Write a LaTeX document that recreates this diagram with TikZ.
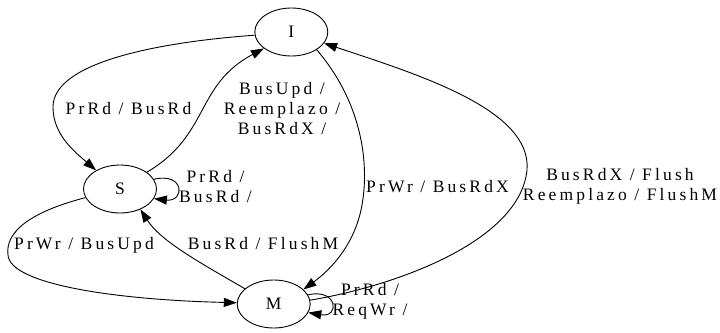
\documentclass[tikz,border=0pt]{standalone}
\usepackage{fontspec}
\setmainfont{Liberation Serif}[LetterSpace=18]
\usetikzlibrary{arrows.meta,shapes.geometric}
\begin{document}
\begin{tikzpicture}[x=1pt,y=-1pt,
  state/.style={draw,ellipse,line width=0.9pt,minimum width=73pt,minimum height=48pt,inner sep=0pt,font=\fontsize{17.5}{20}\selectfont},
  lbl/.style={align=center,inner sep=0pt,font=\fontsize{17.5}{20}\selectfont},
  edge/.style={draw,line width=0.9pt,-{Triangle[length=13pt,width=9pt]}}]
\useasboundingbox (0,0) rectangle (720,332);
\node[state] (I) at (291.3,32) {I};
\node[state] (S) at (120,189) {S};
\node[state] (M) at (273.7,304) {M};
% labels
\node[lbl] (l1) at (128.5,109) {PrRd / BusRd};
\node[lbl] (l2) at (282,109) {BusUpd /\\Reemplazo /\\BusRdX /};
\node[lbl] (l3) at (437.5,187) {PrWr / BusRdX};
\node[lbl] (l4) at (620,186) {BusRdX / Flush\\Reemplazo / FlushM};
\node[lbl] (l5) at (215.5,187) {PrRd /\\BusRd /};
\node[lbl] (l6) at (84,245) {PrWr / BusUpd};
\node[lbl] (l7) at (263,244) {BusRd / FlushM};
\node[lbl] (l8) at (370,301) {PrRd /\\ReqWr /};
% edges
\path[edge] (I.185) .. controls (160,42) and (53,62) .. (53,107) .. controls (53,135) and (75,152) .. (S.142);
\path[edge] (S.32) .. controls (210,135) and (195,85) .. (I.211);
\path[edge] (I.325) .. controls (360,100) and (370,160) .. (362,205) .. controls (355,245) and (330,270) .. (M.26);
\path[edge] (M.6) .. controls (400,285) and (520,240) .. (527,170) .. controls (532,110) and (420,75) .. (I.341);
\path[edge] (S.194) .. controls (30,212) and (5,232) .. (8,255) .. controls (10,285) and (120,300) .. (M.178);
\path[edge] (M.152) .. controls (195,260) and (160,240) .. (S.315);
\path[edge] (S.16) .. controls (185,172) and (185,202) .. (S.344);
\path[edge] (M.15) .. controls (338,288) and (340,318) .. (M.346);
\end{tikzpicture}
\end{document}
